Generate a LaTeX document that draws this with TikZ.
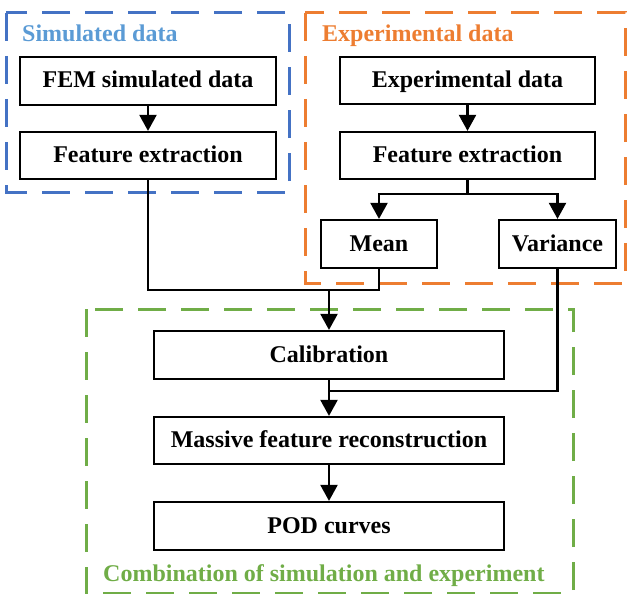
\documentclass[tikz,border=0pt]{standalone}
\usepackage{fontspec}
\setmainfont{Liberation Serif}
\usetikzlibrary{arrows.meta}
\definecolor{simblue}{HTML}{4472C4}
\definecolor{simtitle}{HTML}{5B9BD5}
\definecolor{exporange}{HTML}{ED7D31}
\definecolor{combgreen}{HTML}{70AD47}
\tikzset{
  stepbox/.style={draw=black, line width=2.2pt, inner sep=0pt, text height=18pt, text depth=4pt,
    font=\fontsize{24}{28}\selectfont\bfseries, align=center},
  grp/.style={line width=3pt, dash pattern=on 28pt off 15pt},
  grptitle/.style={anchor=base west, inner sep=0pt, font=\fontsize{24}{28}\selectfont\bfseries},
  arr/.style={line width=2.2pt, -{Triangle[width=17pt,length=16pt]}},
  conn/.style={line width=2.2pt}
}
\begin{document}
\begin{tikzpicture}[x=1pt,y=-1pt]
\useasboundingbox (0,0) rectangle (627,594);
% group frames
\draw[grp, simblue] (6,13) rectangle (289,192);
\draw[grp, exporange] (305,13) rectangle (625,283);
\draw[grp, combgreen] (86,309) rectangle (573,593);
\node[grptitle, text=simtitle] (tsim) at (22,42) {Simulated data};
\node[grptitle, text=exporange] (texp) at (322,42) {Experimental data};
\node[grptitle, text=combgreen] (tcomb) at (103,581) {Combination of simulation and experiment};
% boxes
\node[stepbox, minimum width=256pt, minimum height=48pt] (fem) at (148,81) {FEM simulated data};
\node[stepbox, minimum width=256pt, minimum height=47pt] (fe1) at (148,155.5) {Feature extraction};
\node[stepbox, minimum width=255pt, minimum height=47pt] (exp) at (467.5,80.5) {Experimental data};
\node[stepbox, minimum width=255pt, minimum height=47pt] (fe2) at (467.5,155.5) {Feature extraction};
\node[stepbox, minimum width=116pt, minimum height=48pt] (mean) at (379,244) {Mean};
\node[stepbox, minimum width=117pt, minimum height=48pt] (var) at (557.5,244) {Variance};
\node[stepbox, minimum width=350pt, minimum height=48pt] (calib) at (329,355) {Calibration};
\node[stepbox, minimum width=350pt, minimum height=47pt] (mass) at (329,440.5) {Massive feature reconstruction};
\node[stepbox, minimum width=350pt, minimum height=48pt] (pod) at (329,526) {POD curves};
% junction points
\coordinate (br) at (467.5,194);
\coordinate (j1) at (329,290);
\coordinate (j2) at (329,391);
% connectors
\draw[arr] (fem) -- (fe1);
\draw[arr] (exp) -- (fe2);
\draw[conn] (fe2.south) -- (br);
\draw[arr] (br) -| (mean.north);
\draw[arr] (br) -| (var.north);
\draw[conn] (fe1.south) |- (mean.south |- j1) -- (mean.south);
\draw[arr] (j1) -- (calib.north);
\draw[arr] (calib) -- (mass);
\draw[conn] (var.south) |- (j2);
\draw[arr] (mass) -- (pod);
\end{tikzpicture}
\end{document}
